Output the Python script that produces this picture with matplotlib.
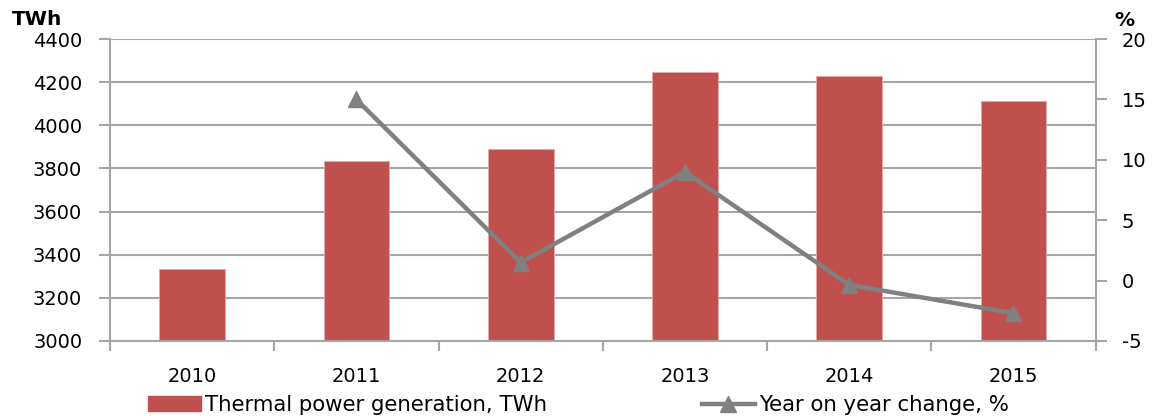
import numpy as np
import matplotlib.pyplot as plt
from matplotlib.lines import Line2D
from matplotlib.patches import Patch

plt.rcParams['font.family'] = ['DejaVu Sans']
plt.rcParams['axes.unicode_minus'] = False

# thermal generation and its yearly change
years = ['2010', '2011', '2012', '2013', '2014', '2015']
generation = [3335, 3833, 3890, 4246, 4230, 4112]
yoy_years = [1, 2, 3, 4, 5]
yoy_change = [15.0, 1.5, 9.0, -0.35, -2.7]

bar_color = '#C0504D'
line_color = '#808080'
grid_color = '#A6A6A6'
fs = 14

fig = plt.figure(figsize=(11.52, 4.16), dpi=100)
ax = fig.add_axes([0.0955, 0.1803, 0.8555, 0.7257])

x = np.arange(len(years))
ax.bar(x, generation, width=0.4, color=bar_color, edgecolor='#E6A9A8', linewidth=0.6, zorder=2)
ax.set_xlim(-0.5, 5.5)
ax.set_ylim(3000, 4400)
ax.set_yticks(np.arange(3000, 4401, 200))
ax.yaxis.grid(True, color=grid_color, linewidth=1.5, zorder=0)
ax.set_axisbelow(True)

# category labels centred, tick marks on the boundaries
ax.set_xticks(x)
ax.set_xticklabels(years, fontsize=fs)
ax.set_xticks(np.arange(-0.5, 5.6, 1), minor=True)
ax.tick_params(axis='x', which='major', length=0, pad=19)
ax.tick_params(axis='x', which='minor', length=7, width=1.5, color=grid_color, direction='out')
ax.tick_params(axis='y', labelsize=fs, length=8, width=1.5, color=grid_color, pad=12)

for side in ['top', 'right']:
    ax.spines[side].set_visible(False)
for side in ['left', 'bottom']:
    ax.spines[side].set_color(grid_color)
    ax.spines[side].set_linewidth(1.5)

ax2 = ax.twinx()
ax2.plot(yoy_years, yoy_change, color=line_color, linewidth=3.2, marker='^', markersize=11, zorder=3)
ax2.set_ylim(-5, 20)
ax2.set_yticks(np.arange(-5, 21, 5))
ax2.tick_params(axis='y', labelsize=fs, length=8, width=1.5, color=grid_color, pad=11)
for side in ['top', 'left', 'bottom']:
    ax2.spines[side].set_visible(False)
ax2.spines['right'].set_color(grid_color)
ax2.spines['right'].set_linewidth(1.5)

fig.text(0.010, 0.952, 'TWh', fontsize=fs + 0.5, fontweight='bold', va='center', ha='left')
fig.text(0.967, 0.950, '%', fontsize=fs + 0.5, fontweight='bold', va='center', ha='left')

# two legend entries placed separately along the bottom
leg_kw = dict(loc='center left', frameon=False, fontsize=15.3, handlelength=2.5,
              handletextpad=0.2, borderpad=0, borderaxespad=0)
fig.legend([Patch(color=bar_color)], ['Thermal power generation, TWh'],
           bbox_to_anchor=(0.1285, 0.026), **leg_kw)
fig.legend([Line2D([0], [0], color=line_color, linewidth=3.2, marker='^', markersize=11)],
           ['Year on year change, %'], bbox_to_anchor=(0.609, 0.026), **leg_kw)

fig.savefig('out.png', dpi=100)
